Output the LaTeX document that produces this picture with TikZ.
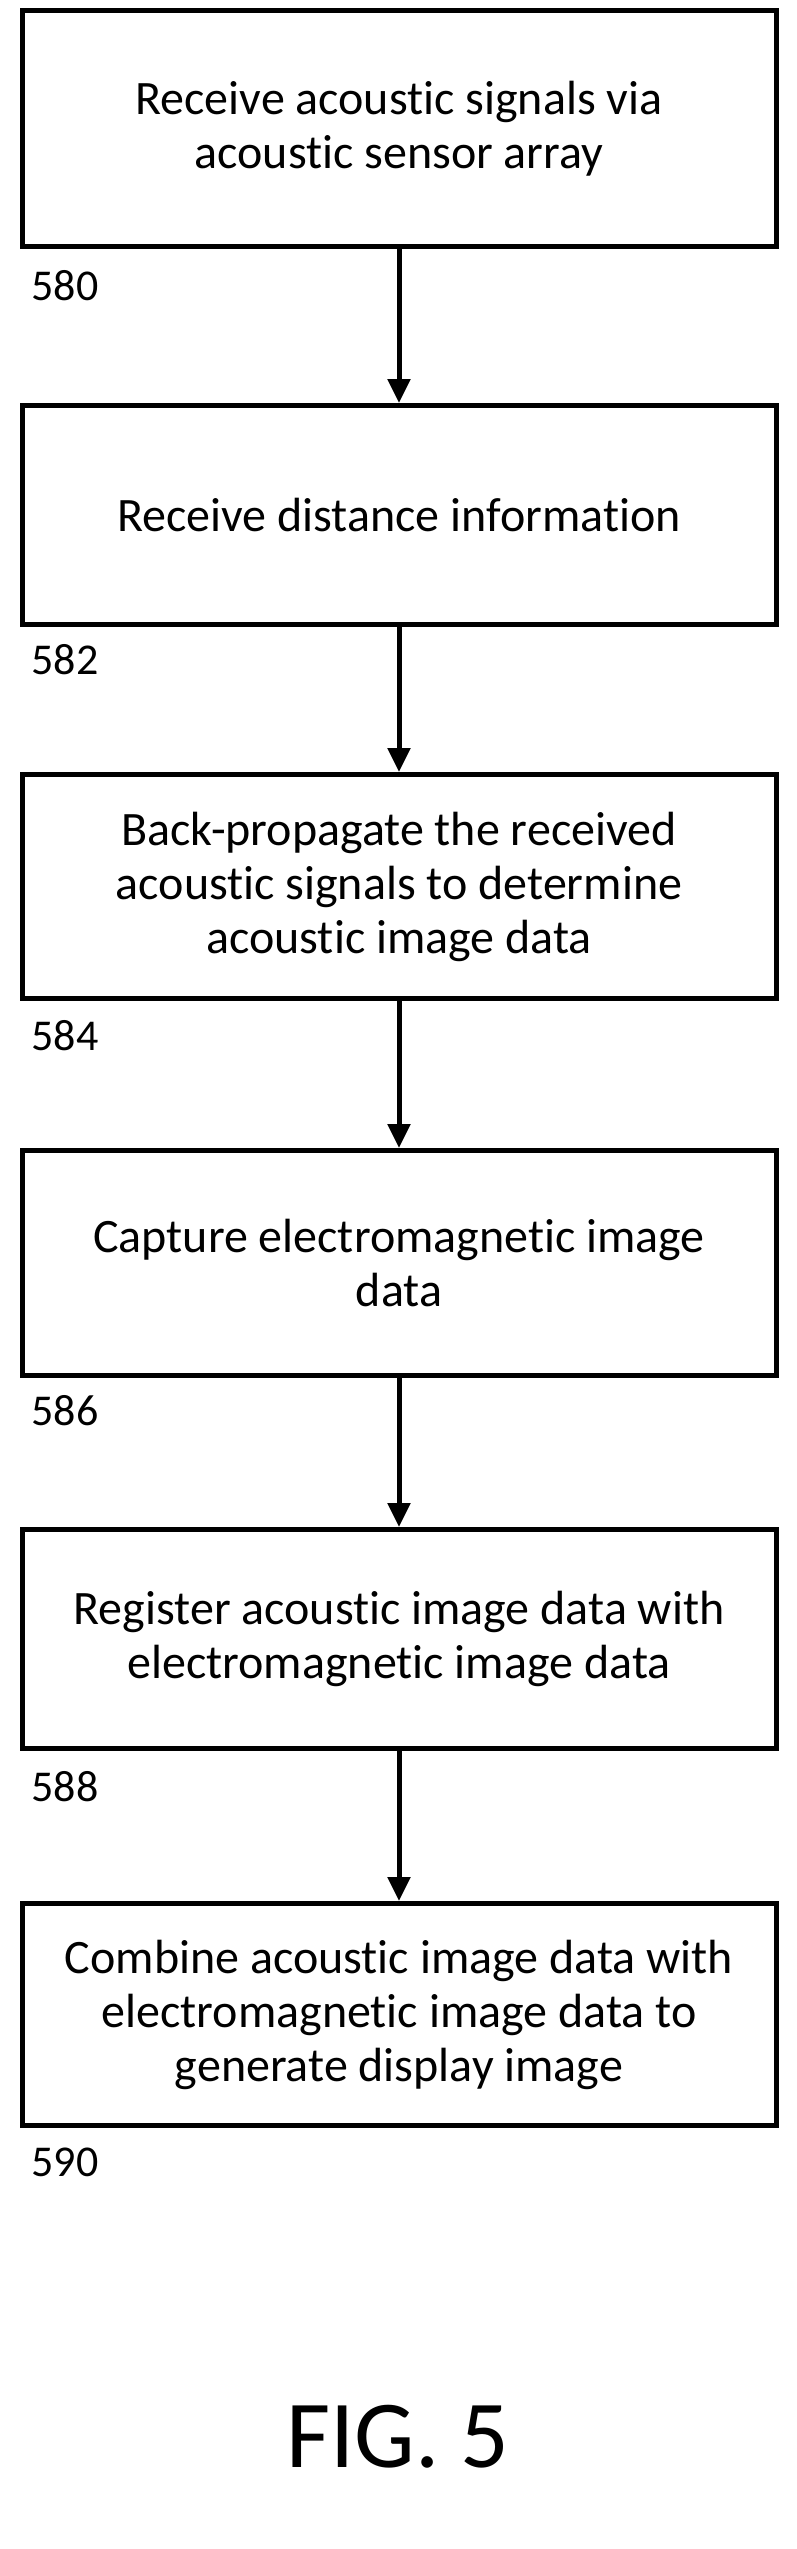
\documentclass[tikz,border=0pt]{standalone}
\usepackage{fontspec}
\setmainfont{Carlito}[RawFeature={-liga}]
\usetikzlibrary{arrows.meta}
\begin{document}
\begin{tikzpicture}[x=1pt,y=-1pt,
  box/.style={draw,line width=5pt,minimum width=754pt,align=center,font=\fontsize{48}{54}\selectfont,anchor=north west,inner sep=0pt},
  lab/.style={anchor=west,font=\fontsize{44}{50}\selectfont},
  arr/.style={-{Triangle[length=24pt,width=22pt]},line width=5pt}]
\useasboundingbox (0,0) rectangle (796,2549);
\node[box,minimum height=236pt] (b1) at (19.5,8) {Receive acoustic signals via\\acoustic sensor array};
\node[box,minimum height=219pt] (b2) at (19.5,403) {Receive distance information};
\node[box,minimum height=224pt] (b3) at (19.5,772) {Back-propagate the received\\acoustic signals to determine\\acoustic image data};
\node[box,minimum height=225pt] (b4) at (19.5,1148) {Capture electromagnetic image\\data};
\node[box,minimum height=219pt] (b5) at (19.5,1527) {Register acoustic image data with\\electromagnetic image data};
\node[box,minimum height=222pt] (b6) at (19.5,1901) {Combine acoustic image data with\\electromagnetic image data to\\generate display image};
\node[lab] (l1) at (28,286) {580};
\node[lab] (l2) at (28,660) {582};
\node[lab] (l3) at (28,1036) {584};
\node[lab] (l4) at (28,1411) {586};
\node[lab] (l5) at (28,1787) {588};
\node[lab] (l6) at (28,2162) {590};
\node[font=\fontsize{96}{110}\selectfont] (fig) at (398,2437) {FIG. 5};
\draw[arr] (b1) -- (b2);
\draw[arr] (b2) -- (b3);
\draw[arr] (b3) -- (b4);
\draw[arr] (b4) -- (b5);
\draw[arr] (b5) -- (b6);
\end{tikzpicture}
\end{document}
